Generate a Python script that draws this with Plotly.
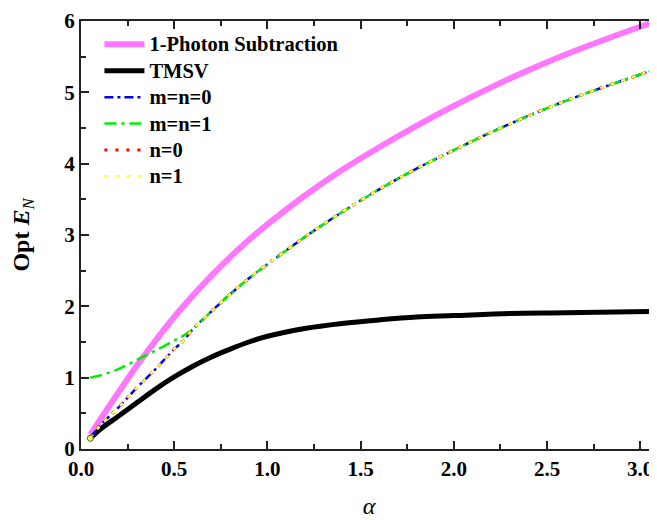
import plotly.graph_objects as go

# ---- data ----
alpha_pink = [0.05, 0.1, 0.2, 0.3, 0.4, 0.5, 0.6, 0.7, 0.8, 0.9, 1.0, 1.2, 1.4, 1.6, 1.8, 2.0, 2.2, 2.4, 2.6, 2.8, 3.0, 3.1]
photon_sub = [0.20, 0.40, 0.79, 1.17, 1.52, 1.85, 2.15, 2.43, 2.69, 2.93, 3.15, 3.55, 3.91, 4.23, 4.53, 4.81, 5.07, 5.31, 5.53, 5.73, 5.92, 6.01]

alpha_tmsv = [0.05, 0.1, 0.2, 0.3, 0.4, 0.5, 0.6, 0.7, 0.8, 0.9, 1.0, 1.2, 1.4, 1.6, 1.8, 2.0, 2.3, 2.6, 3.1]
tmsv = [0.15, 0.27, 0.46, 0.65, 0.84, 1.01, 1.16, 1.29, 1.40, 1.50, 1.58, 1.69, 1.76, 1.81, 1.85, 1.87, 1.90, 1.91, 1.93]

alpha_c = [0.05, 0.1, 0.2, 0.3, 0.4, 0.5, 0.55, 0.6, 0.7, 0.8, 0.9, 1.0, 1.2, 1.4, 1.6, 1.8, 2.0, 2.2, 2.4, 2.6, 2.8, 3.0, 3.1]
mn0 = [0.15, 0.32, 0.58, 0.86, 1.12, 1.40, 1.52, 1.68, 1.93, 2.17, 2.39, 2.59, 2.97, 3.32, 3.64, 3.93, 4.19, 4.44, 4.67, 4.88, 5.07, 5.25, 5.34]
mn1 = [1.00, 1.03, 1.12, 1.25, 1.38, 1.52, 1.59, 1.68, 1.93, 2.17, 2.39, 2.59, 2.97, 3.32, 3.64, 3.93, 4.19, 4.44, 4.67, 4.88, 5.07, 5.25, 5.34]
n0 = [0.15, 0.32, 0.58, 0.86, 1.12, 1.40, 1.52, 1.68, 1.93, 2.17, 2.39, 2.59, 2.97, 3.32, 3.64, 3.93, 4.19, 4.44, 4.67, 4.88, 5.07, 5.25, 5.34]
n1 = [0.15, 0.32, 0.58, 0.86, 1.12, 1.40, 1.52, 1.68, 1.93, 2.17, 2.39, 2.59, 2.97, 3.32, 3.64, 3.93, 4.19, 4.44, 4.67, 4.88, 5.07, 5.25, 5.34]

x_ticks = [0.0, 0.5, 1.0, 1.5, 2.0, 2.5, 3.0]
x_tick_labels = ["0.0", "0.5", "1.0", "1.5", "2.0", "2.5", "3.0"]
y_ticks = [0, 1, 2, 3, 4, 5, 6]

SERIF = "Liberation Serif, Times New Roman, serif"


def leg(name):
    return '<span style="font-size:20.5px">' + name + "</span>"


fig = go.Figure()
fig.add_trace(go.Scatter(x=alpha_pink, y=photon_sub, mode="lines", name=leg("1-Photon Subtraction"),
                         legendgroup="a", line=dict(color="#FF77FF", width=6, shape="spline")))
fig.add_trace(go.Scatter(x=alpha_tmsv, y=tmsv, mode="lines", name=leg("TMSV"),
                         legendgroup="b", line=dict(color="black", width=5, shape="spline")))
fig.add_trace(go.Scatter(x=alpha_c, y=mn0, mode="lines", name=leg("m=n=0"),
                         legendgroup="c", line=dict(color="#0000FF", width=2.5, dash="9px,4px,3px,4px", shape="spline")))
fig.add_trace(go.Scatter(x=alpha_c, y=mn1, mode="lines", name=leg("m=n=1"),
                         legendgroup="d", line=dict(color="#00EE00", width=2.5, dash="12px,5px,3px,5px", shape="spline")))
fig.add_trace(go.Scatter(x=alpha_c, y=n0, mode="lines", name=leg("n=0"),
                         legendgroup="e", line=dict(color="#FF0000", width=3, dash="3px,8px", shape="spline")))
fig.add_trace(go.Scatter(x=alpha_c, y=n1, mode="lines", name=leg("n=1"),
                         legendgroup="f", line=dict(color="#FFFF44", width=2.5, dash="4px,7px", shape="spline")))
fig.add_trace(go.Scatter(x=alpha_c[:1], y=n1[:1], mode="markers", showlegend=False,
                         marker=dict(size=6, color="#FFFF44", line=dict(color="#555555", width=1))))

axis_common = dict(
    showline=True, linecolor="#222222", linewidth=2, mirror="allticks",
    ticks="inside", ticklen=8, tickwidth=2, tickcolor="#222222",
    showgrid=False, zeroline=False, automargin=False,
    tickfont=dict(family=SERIF, size=21, color="black", weight="bold"),
)

fig.update_xaxes(range=[0, 3.09], tickvals=x_ticks, ticktext=x_tick_labels,
                 minor=dict(ticks="inside", ticklen=5, dtick=0.25, tickcolor="#222222", tickwidth=2),
                 title=dict(text="<i>α</i>", font=dict(family=SERIF, size=24, color="black"), standoff=17),
                 **axis_common)
fig.update_yaxes(range=[0, 6], tickvals=y_ticks,
                 minor=dict(ticks="inside", ticklen=5, dtick=0.5, tickcolor="#222222", tickwidth=2),
                 title=dict(text="<b>Opt </b><b><i>E</i></b><i><sub>N</sub></i>",
                            font=dict(family=SERIF, size=24, color="black"), standoff=28),
                 **axis_common)

# page body has an 8px margin, so the figure is 8px smaller and margins shifted
fig.update_layout(
    width=649, height=512,
    margin=dict(l=73, r=0, t=13, b=71),
    plot_bgcolor="white", paper_bgcolor="white",
    showlegend=True,
    legend=dict(x=0.032, y=0.988, xanchor="left", yanchor="top",
                bgcolor="rgba(0,0,0,0)", tracegroupgap=0,
                font=dict(family=SERIF, size=18, color="black", weight="bold"),
                itemwidth=40),
)

fig.write_html("out.html")
